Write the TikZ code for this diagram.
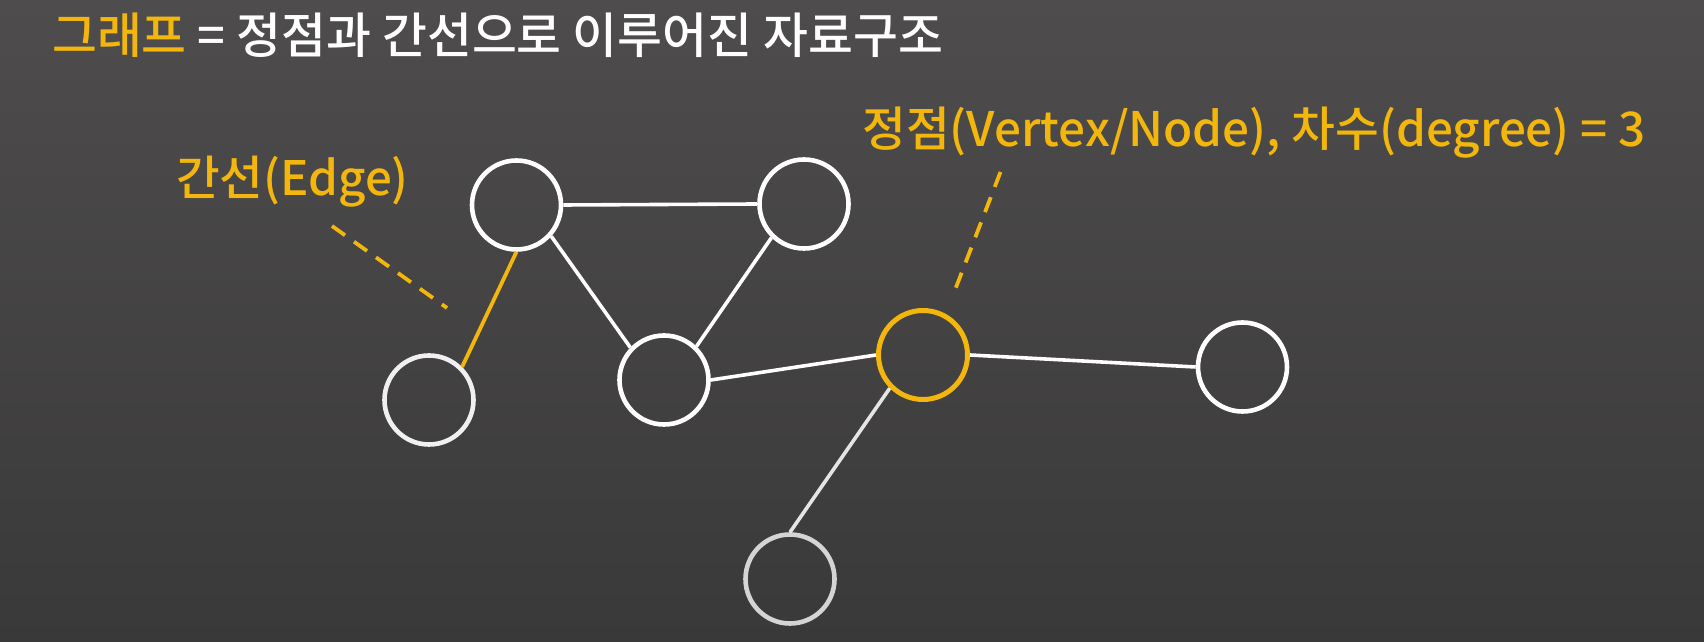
\documentclass[tikz,border=0pt]{standalone}
\usepackage{fontspec}
\setmainfont{Noto Sans CJK KR}[BoldFont={Noto Sans CJK KR Medium}]
\definecolor{bgtop}{RGB}{78,76,77}
\definecolor{bgbot}{RGB}{58,57,57}
\definecolor{gold}{RGB}{243,182,12}
\definecolor{lightgray}{RGB}{212,212,212}
\tikzset{
  vtx/.style={circle, draw=white, line width=4.6pt, minimum size=89pt, inner sep=0pt},
  hot/.style={vtx, draw=gold, line width=5pt},
  edg/.style={draw=white, line width=3.6pt},
  hotedg/.style={draw=gold, line width=3.8pt},
  lead/.style={draw=gold, line width=3.8pt, dash pattern=on 16pt off 11pt},
  lbl/.style={inner sep=0pt, anchor=base west, text=gold, font=\bfseries}
}
\begin{document}
\begin{tikzpicture}[x=1pt,y=1pt]
\fill[top color=bgtop, bottom color=bgbot] (0,0) rectangle (1704,642);
\useasboundingbox (0,0) rectangle (1704,642);
% title
\node[inner sep=0pt, anchor=base west, font=\bfseries] (title) at (52,588)
  {\fontsize{48.8}{56}\selectfont\textcolor{gold}{그래프} \textcolor{white}{= 정점과 간선으로 이루어진 자료구조}};
% vertices
\node[vtx] (A) at (516.5,437) {};
\node[vtx] (B) at (804,438) {};
\node[vtx, draw=white!94!black] (C) at (429,242) {};
\node[vtx] (D) at (664,262) {};
\node[hot] (E) at (923,287) {};
\node[vtx] (F) at (1242.5,275) {};
\node[vtx, draw=lightgray] (G) at (790,63) {};
% edges
\draw[edg] (A.east) -- (B.west);
\draw[edg] (A.-42) -- (D.136);
\draw[edg] (B.226) -- (D.46);
\draw[hotedg] (A.south) -- (C.45);
\draw[edg] (D.east) -- (E.west);
\draw[edg] (E.east) -- (F.west);
\draw[edg, draw=white!90!black] (E.225) -- (G.north);
% labels
\node[lbl] (edgelbl) at (176,446) {\fontsize{47.5}{52}\selectfont 간선(Edge)};
\node[lbl] (vtxlbl) at (862,495) {\fontsize{47.6}{52}\selectfont 정점(Vertex/Node), 차수(degree) = 3};
% leader lines
\coordinate (e1) at (332,416);
\coordinate (e2) at (447,334);
\coordinate (v1) at (1000.5,470);
\coordinate (v2) at (955,352);
\draw[lead] (e1) -- (e2);
\draw[lead] (v1) -- (v2);
\end{tikzpicture}
\end{document}
